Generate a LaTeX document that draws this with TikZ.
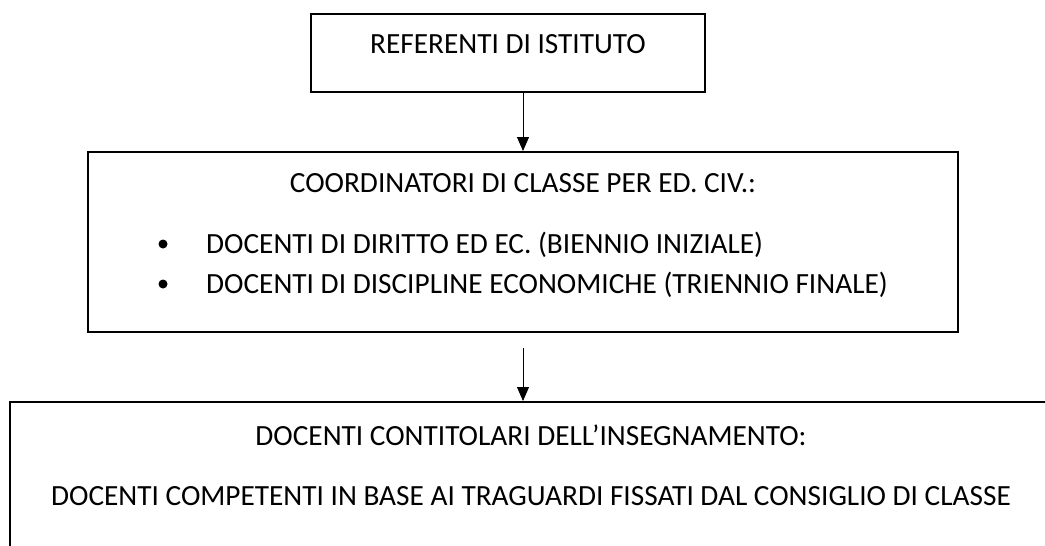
\documentclass[tikz,border=0pt]{standalone}
\usepackage{fontspec}
\setmainfont{Carlito}
\usetikzlibrary{arrows.meta}

\begin{document}
\begin{tikzpicture}[x=1pt, y=-1pt, font=\fontsize{29.3}{35}\selectfont,
		box/.style={draw, line width=2pt, inner sep=0pt},
		txt/.style={inner sep=0pt, anchor=base},
		arr/.style={line width=0.9pt, -{Triangle[length=14pt, width=12pt]}}]
		\path[use as bounding box, clip] (0,0) rectangle (1045,546);
		\node[box, minimum width=394pt, minimum height=78pt] (ref) at (508,53) {};
		\node[box, minimum width=870pt, minimum height=180pt] (mid) at (523,242) {};
		\node[box, minimum width=1042pt, minimum height=200pt] (bot) at (531,502) {};
		\node[txt] (reft) at (508,53) {REFERENTI DI ISTITUTO};
		\node[txt] (midt) at (523,192) {COORDINATORI DI CLASSE PER ED. CIV.:};
		\node[txt, anchor=base west] (ptA) at (206,253) {DOCENTI DI DIRITTO ED EC. (BIENNIO INIZIALE)};
		\node[txt, anchor=base west] (ptB) at (206,293) {DOCENTI DI DISCIPLINE ECONOMICHE (TRIENNIO FINALE)};
		\fill (163,244) circle (4.5) (163,284) circle (4.5);
		\node[txt] (bott) at (531,445) {DOCENTI CONTITOLARI DELL’INSEGNAMENTO:};
		\node[txt] (botu) at (531,505) {DOCENTI COMPETENTI IN BASE AI TRAGUARDI FISSATI DAL CONSIGLIO DI CLASSE};
		\draw[arr] (ref.south -| mid.north) -- (mid.north);
		\draw[arr] ([yshift=-15pt]mid.south) -- (mid.south |- bot.north);
\end{tikzpicture}
\end{document}
